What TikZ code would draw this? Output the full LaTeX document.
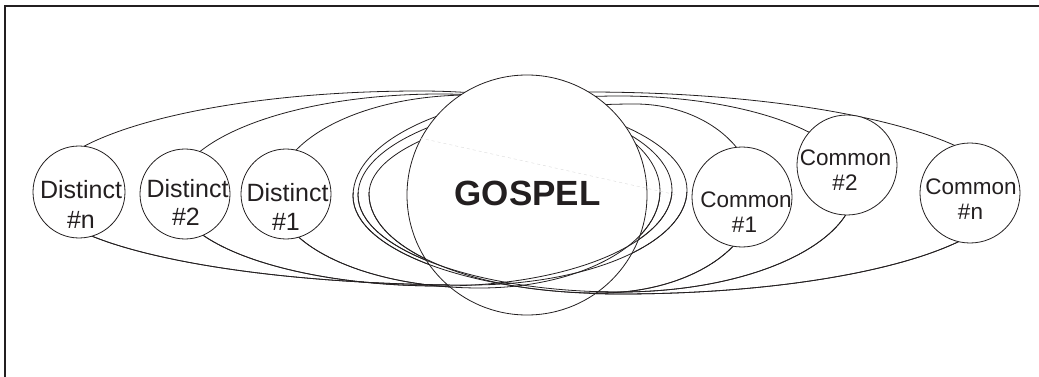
\documentclass[tikz,border=0pt]{standalone}
\usepackage{fontspec}
\setmainfont{Liberation Sans}
\definecolor{ink}{RGB}{35,31,32}
\def\pathDn{(42,193) arc[start angle=180,end angle=270,x radius=378,y radius=102]
  arc[start angle=270,end angle=360,x radius=267,y radius=99]
  arc[start angle=0,end angle=90,x radius=217,y radius=95]
  arc[start angle=90,end angle=180,x radius=428,y radius=92] -- cycle}
\def\pathDtwo{(175,194) arc[start angle=180,end angle=270,x radius=265,y radius=100]
  arc[start angle=270,end angle=360,x radius=232,y radius=96]
  arc[start angle=0,end angle=90,x radius=232,y radius=96]
  arc[start angle=90,end angle=180,x radius=265,y radius=92] -- cycle}
\def\pathDone{(276,194) arc[start angle=180,end angle=270,x radius=194,y radius=99]
  arc[start angle=270,end angle=360,x radius=190,y radius=96]
  arc[start angle=0,end angle=90,x radius=180,y radius=97]
  arc[start angle=90,end angle=180,x radius=204,y radius=94] -- cycle}
\def\pathCn{(353,196) arc[start angle=180,end angle=270,x radius=234,y radius=104]
  arc[start angle=270,end angle=360,x radius=418,y radius=102]
  arc[start angle=0,end angle=90,x radius=385,y radius=100]
  arc[start angle=90,end angle=180,x radius=267,y radius=98] -- cycle}
\def\pathCtwo{(358,195) arc[start angle=180,end angle=270,x radius=261,y radius=99]
  arc[start angle=270,end angle=360,x radius=236,y radius=89]
  arc[start angle=0,end angle=90,x radius=235,y radius=107]
  arc[start angle=90,end angle=180,x radius=262,y radius=97] -- cycle}
\def\pathCone{(369,194) arc[start angle=180,end angle=270,x radius=266,y radius=90]
  arc[start angle=270,end angle=360,x radius=120,y radius=93]
  arc[start angle=0,end angle=90,x radius=155,y radius=96]
  arc[start angle=90,end angle=180,x radius=231,y radius=99] -- cycle}
\begin{document}
\begin{tikzpicture}[x=1pt,y=-1pt,
  curve/.style={draw=ink,line width=0.8pt},
  orb/.style={circle,draw=ink,line width=0.8pt,fill=white,inner sep=0pt},
  lbl/.style={anchor=base,inner sep=0pt,text=ink},
  dtext/.style={lbl,font=\fontsize{25}{30}\selectfont},
  ctext/.style={lbl,font=\fontsize{22.5}{27}\selectfont},
  ghost/.style={draw=black!14,dashed,line width=0.4pt}]
\useasboundingbox (0,0) rectangle (1039,377);
\clip (0,0) rectangle (1039,377);
% frame (cropped)
\draw[ink,line width=2pt] (5,385) -- (5,6) -- (1050,6);
% orbits, full (their upper parts pass behind the gospel disc)
\draw[curve] \pathDn;
\draw[curve] \pathDtwo;
\draw[curve] \pathDone;
\draw[curve] \pathCn;
\draw[curve] \pathCtwo;
\draw[curve] \pathCone;
% the gospel disc
\node[orb,minimum size=240pt] (gospel) at (527,195) {};
% lower parts of the orbits pass in front of the disc
\begin{scope}
\clip (0,192) rectangle (1039,377);
\draw[curve] \pathDn;
\draw[curve] \pathDtwo;
\draw[curve] \pathDone;
\draw[curve] \pathCn;
\draw[curve] \pathCtwo;
\draw[curve] \pathCone;
\end{scope}
% faint trace
\coordinate (g1) at (420,138);
\coordinate (g2) at (677,195);
\draw[ghost] (g1) -- (g2);
% small circles
\node[orb,minimum size=92pt] (dn) at (79,192) {};
\node[orb,minimum size=90pt] (d2) at (185,194) {};
\node[orb,minimum size=90pt] (d1) at (286,194) {};
\node[orb,minimum size=100pt] (c1) at (742,197) {};
\node[orb,minimum size=100pt] (c2) at (847,165) {};
\node[orb,minimum size=100pt] (cn) at (970,193) {};
% labels
\node[dtext] (dna) at (81,198) {Distinct};
\node[dtext] (dnb) at (81,228) {\#n};
\node[dtext] (d2a) at (187.5,197) {Distinct};
\node[dtext] (d2b) at (186,225) {\#2};
\node[dtext] (d1a) at (287.5,201) {Distinct};
\node[dtext] (d1b) at (286,230) {\#1};
\node[ctext] (c1a) at (746,207) {Common};
\node[ctext] (c1b) at (744.5,232) {\#1};
\node[ctext] (c2a) at (845.5,166) {Common};
\node[ctext] (c2b) at (845,190) {\#2};
\node[ctext] (cna) at (971,194) {Common};
\node[ctext] (cnb) at (970.5,219) {\#n};
\node[lbl,font=\fontsize{35}{42}\selectfont\bfseries] (gt) at (527.5,205) {GOSPEL};
\end{tikzpicture}
\end{document}
